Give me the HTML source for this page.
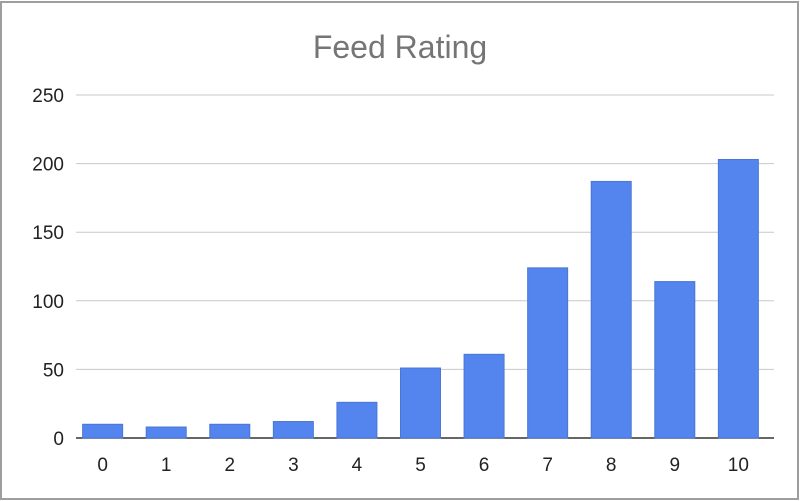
<!DOCTYPE html>
<html><head><meta charset="utf-8"><style>
body{margin:0;background:#fff;width:800px;height:501px;overflow:hidden}
svg{display:block;font-family:"Liberation Sans",Arial,sans-serif}
</style></head><body>
<svg id="chart" width="800" height="501">
<rect x="1" y="2" width="797" height="497" fill="#fff" stroke="#9e9e9e" stroke-width="2"/>
<text x="400" y="58" text-anchor="middle" font-size="32" fill="#757575">Feed Rating</text>
<g id="grid"></g><g id="bars"></g><g id="xlabels"></g>
</svg>
<script>
const categories=["0","1","2","3","4","5","6","7","8","9","10"];
const values=[10,8,10,12,26,51,61,124,187,114,203];
const yTicks=[0,50,100,150,200,250];
const NS="http://www.w3.org/2000/svg";
const x0=78,x1=774,y0=438,yTop=95,yMax=250;
const step=(x1-x0)/categories.length;
function y(v){return y0-(v/yMax)*(y0-yTop);}
function xc(i){return x0+step*(i+0.5)-7+i*0.3;}
function mk(t,a,p){const e=document.createElementNS(NS,t);for(const k in a)e.setAttribute(k,a[k]);p.appendChild(e);return e;}
const grid=document.getElementById('grid');
yTicks.forEach(t=>{
  const l=mk('line',{x1:76,x2:x1,y1:y(t),y2:y(t),stroke:t===0?'#333':'#c8c8c8','stroke-width':t===0?1.5:1},grid);
  
  
  const tx=mk('text',{x:64,y:y(t)+7,'text-anchor':'end','font-size':19,fill:'#222'},grid);
  tx.textContent=t;
  
  
});
const bars=document.getElementById('bars'),xl=document.getElementById('xlabels');
categories.forEach((c,i)=>{
  const cx=xc(i),bw=40;
  const r=mk('rect',{x:cx-bw/2,y:y(values[i]),width:bw,height:y0-y(values[i]),fill:'#5484ed',stroke:'#4a76d6','stroke-width':1},bars);
  
  
  const t=mk('text',{x:cx,y:471,'text-anchor':'middle','font-size':19,fill:'#222'},xl);
  t.textContent=c;
  
  
});
</script>
</body></html>
